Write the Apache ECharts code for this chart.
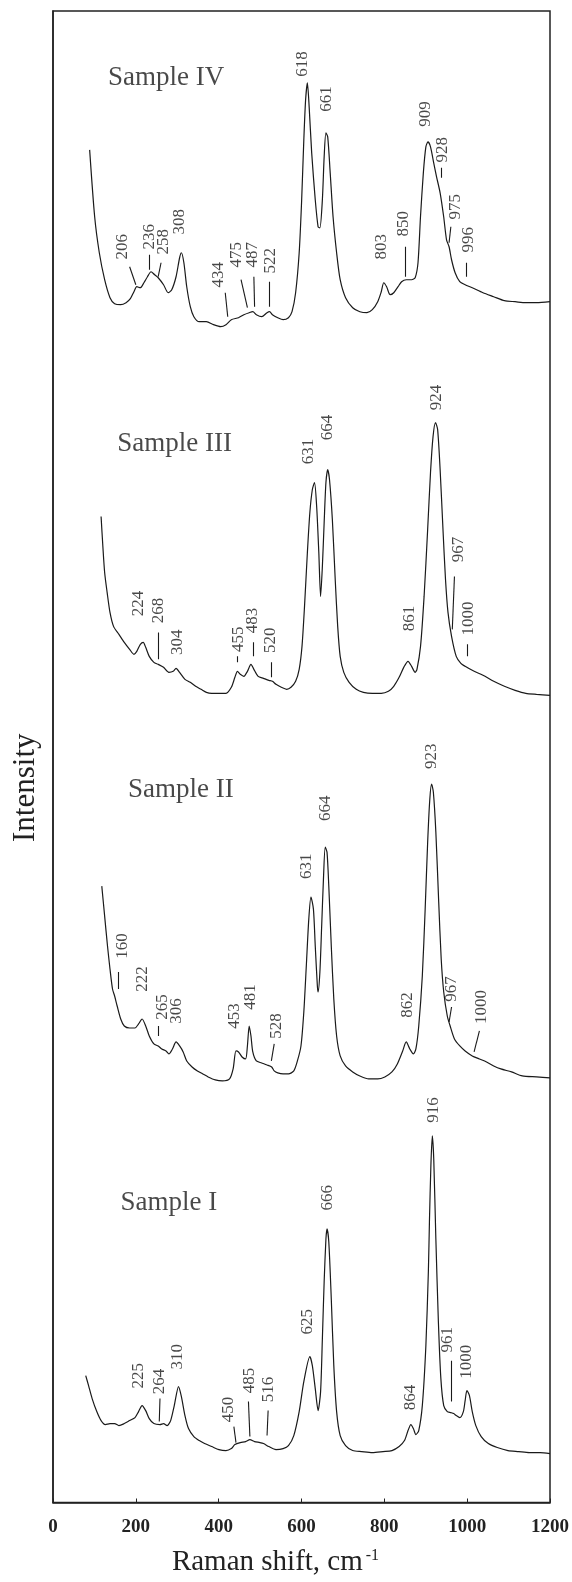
<!DOCTYPE html>
<html><head><meta charset="utf-8">
<script src="https://cdn.jsdelivr.net/npm/echarts@6/dist/echarts.min.js"></script>
<style>html,body{margin:0;padding:0;background:#fff}#c{width:572px;height:1582px}</style>
</head><body><div id="c"></div>
<script>
// x: Raman shift (cm^-1), y: intensity (arbitrary units, spectra stacked)
const xTicks = [0, 200, 400, 600, 800, 1000, 1200];
const sampleNames = ['Sample IV', 'Sample III', 'Sample II', 'Sample I'];
const sampleNamePos = [[133, 142.6], [155, 106.0], [181, 71.3], [163, 30.0]];

const spectrumIV = [[88.5,135.4],[100.6,128.7],[111.8,125.1],[124.7,122.4],[137.6,120.6],[148.8,120.0],[163.5,119.9],[176.4,120.1],[186.8,120.5],[195.4,121.2],[202.3,121.7],[210.9,121.6],[219.5,122.1],[228.1,122.7],[236.7,123.2],[245.4,122.9],[254.0,122.6],[266.9,121.9],[278.1,121.1],[286.7,121.4],[297.1,122.7],[305.7,124.6],[310.0,125.1],[316.0,124.1],[322.9,121.7],[331.5,119.7],[340.1,118.7],[353.1,118.2],[370.3,118.2],[387.5,117.9],[404.8,117.7],[417.7,117.9],[430.6,118.4],[447.9,118.6],[460.8,118.9],[473.7,119.1],[482.4,119.2],[491.0,118.9],[503.9,118.7],[516.8,119.1],[522.9,119.2],[529.8,118.9],[542.7,118.6],[555.6,118.4],[568.5,118.6],[577.1,119.2],[585.8,121.1],[594.4,125.1],[600.4,130.4],[605.6,136.4],[609.9,140.4],[614.2,142.1],[618.5,139.7],[624.6,135.1],[633.2,130.4],[640.1,127.7],[644.4,127.6],[650.4,130.4],[654.7,134.7],[659.0,137.1],[663.3,136.7],[669.3,133.1],[676.2,128.7],[684.8,125.1],[693.4,122.4],[706.4,120.6],[723.6,119.6],[740.9,119.2],[758.1,119.1],[771.0,119.4],[784.0,120.2],[792.6,121.2],[798.6,122.1],[805.5,121.7],[814.1,120.9],[822.7,121.1],[833.1,121.7],[841.7,122.2],[852.9,122.4],[865.8,122.4],[874.4,122.6],[881.3,124.1],[887.3,128.7],[894.2,133.1],[900.3,135.7],[905.4,136.2],[911.5,135.7],[919.2,134.1],[926.1,132.7],[934.7,131.1],[943.3,128.7],[950.2,126.4],[956.3,125.7],[962.3,124.4],[970.9,123.1],[982.1,122.2],[995.1,121.9],[1012.3,121.6],[1038.2,121.1],[1064.0,120.7],[1089.9,120.3],[1115.7,120.2],[1141.6,120.1],[1167.4,120.1],[1200,120.2]];

const spectrumIII = [[116.1,98.7],[120.4,95.7],[124.7,93.1],[130.7,91.1],[137.6,89.1],[146.2,87.7],[159.2,86.9],[172.1,86.1],[185.0,85.4],[195.4,84.9],[202.3,85.2],[210.9,85.9],[217.8,86.1],[223.8,85.6],[232.4,84.7],[243.6,84.1],[254.0,83.9],[266.9,83.6],[279.8,83.1],[290.2,83.2],[297.1,83.5],[305.7,83.1],[318.6,82.4],[331.5,82.1],[344.4,81.7],[357.4,81.4],[370.3,81.1],[383.2,81.0],[400.5,81.0],[417.7,81.0],[430.6,81.6],[439.2,82.6],[445.3,83.2],[452.2,82.9],[460.8,82.7],[469.4,83.2],[478.0,83.9],[485.0,83.4],[495.3,82.7],[508.2,82.5],[521.1,82.3],[529.8,82.2],[538.4,81.9],[551.3,81.6],[564.2,81.4],[574.6,81.6],[585.8,82.2],[594.4,83.4],[601.2,85.7],[607.3,89.7],[614.2,95.1],[620.2,99.1],[626.2,101.4],[631.4,102.1],[636.6,99.7],[641.8,95.1],[646.1,90.7],[650.4,93.7],[654.7,98.1],[659.0,102.1],[663.3,103.4],[667.6,102.4],[674.5,98.4],[681.4,92.4],[687.4,87.7],[693.4,84.7],[702.1,83.1],[715.0,82.1],[732.2,81.4],[749.5,81.1],[771.0,81.0],[792.6,81.0],[809.8,81.2],[822.7,81.7],[835.7,82.6],[846.9,83.6],[857.2,84.2],[865.8,83.7],[874.4,83.1],[878.8,83.4],[887.4,85.7],[896.0,90.7],[904.6,97.4],[911.5,103.1],[917.6,106.7],[923.6,108.1],[928.7,107.4],[934.7,103.4],[941.6,97.4],[947.7,92.4],[953.7,89.1],[962.3,86.7],[973.6,84.7],[984.8,84.0],[995.1,83.7],[1012.3,83.3],[1038.2,82.8],[1064.1,82.2],[1089.9,81.7],[1115.8,81.3],[1141.6,81.0],[1167.4,80.9],[1200,80.8]];

const spectrumII = [[117.8,61.7],[124.7,58.7],[131.6,55.7],[137.6,53.4],[143.7,51.4],[148.8,50.7],[154.9,49.7],[163.5,48.4],[172.1,47.7],[185.0,47.5],[198.0,47.5],[206.6,47.9],[215.1,48.4],[223.8,47.7],[232.4,46.7],[243.6,45.9],[254.0,45.7],[262.6,45.4],[272.9,45.2],[279.8,44.9],[288.4,45.4],[297.1,46.1],[305.7,45.7],[314.3,45.1],[322.9,44.2],[335.8,43.6],[348.7,43.2],[361.7,42.9],[374.6,42.6],[391.8,42.3],[409.1,42.2],[426.3,42.4],[434.9,43.4],[441.8,45.2],[447.9,45.1],[456.5,44.6],[465.1,44.4],[469.4,45.7],[473.7,47.7],[478.0,46.7],[482.4,45.1],[491.0,44.2],[503.9,44.0],[516.8,43.8],[528.0,43.6],[534.1,43.2],[542.7,43.0],[555.6,42.9],[568.5,42.9],[581.4,43.2],[590.1,44.2],[598.7,45.7],[605.6,49.1],[611.6,53.7],[617.6,58.4],[622.8,60.6],[628.8,59.4],[633.2,55.7],[638.3,51.7],[640.1,51.1],[644.4,53.1],[648.7,57.7],[653.0,62.4],[657.3,65.6],[661.6,65.1],[665.9,61.7],[671.9,55.7],[678.0,50.4],[684.8,46.7],[693.4,44.7],[706.4,43.7],[723.6,43.1],[740.9,42.7],[762.4,42.4],[784.0,42.4],[801.2,42.6],[818.4,43.1],[831.4,43.9],[844.3,45.2],[852.9,46.1],[861.5,45.4],[870.1,44.9],[876.2,45.4],[883.1,47.7],[891.7,52.7],[898.6,59.4],[904.6,66.1],[909.8,70.4],[914.1,71.9],[918.4,71.1],[924.4,67.1],[931.3,60.1],[937.3,54.4],[943.4,51.1],[952.0,48.7],[958.9,47.7],[969.3,46.4],[982.2,45.7],[995.1,45.2],[1012.3,44.7],[1029.6,44.4],[1046.8,44.1],[1064.1,43.7],[1081.3,43.4],[1107.1,43.1],[1133.0,42.7],[1167.4,42.6],[1200,42.5]];

const spectrumI = [[79.0,12.7],[85.9,11.7],[94.5,10.4],[105.7,9.1],[116.1,8.2],[126.4,7.8],[137.6,7.9],[148.8,7.9],[159.2,7.7],[172.1,7.9],[185.0,8.2],[198.0,8.5],[206.6,9.1],[215.1,9.7],[223.8,9.2],[232.4,8.4],[243.6,7.9],[258.3,7.8],[266.9,7.9],[275.5,7.7],[284.1,8.2],[292.8,9.7],[303.1,11.6],[310.0,10.6],[318.6,8.7],[327.2,7.4],[340.1,6.6],[353.1,6.2],[366.0,5.9],[383.2,5.6],[400.5,5.3],[417.7,5.2],[430.6,5.4],[439.2,5.8],[452.2,6.0],[465.1,6.1],[475.4,6.3],[486.7,6.1],[499.6,6.0],[508.2,5.9],[521.1,5.6],[538.4,5.3],[555.6,5.4],[568.5,5.7],[581.4,6.7],[594.4,9.1],[605.6,12.1],[620.2,14.6],[626.2,13.7],[633.2,11.4],[640.1,9.2],[646.1,11.1],[650.4,16.4],[654.7,22.1],[659.0,26.4],[661.6,27.4],[665.9,26.1],[671.9,20.4],[678.0,13.7],[684.8,9.1],[693.4,6.7],[706.4,5.7],[723.6,5.2],[745.2,5.1],[771.0,5.0],[796.9,5.1],[818.4,5.2],[835.7,5.6],[848.6,6.2],[857.2,7.2],[864.1,7.8],[870.1,7.4],[876.2,6.8],[883.1,7.2],[891.7,9.7],[900.3,15.7],[906.3,23.1],[908.9,28.1],[912.4,33.7],[915.8,36.7],[919.3,34.4],[924.4,26.4],[930.5,18.1],[936.5,12.4],[943.4,9.7],[952.0,9.1],[960.6,9.0],[967.5,8.9],[973.6,8.7],[982.2,8.5],[990.8,9.1],[995.1,10.2],[999.4,11.2],[1005.5,10.7],[1012.3,9.1],[1020.9,7.7],[1033.9,6.6],[1051.1,5.9],[1072.7,5.5],[1098.5,5.2],[1124.4,5.1],[1150.2,5.0],[1176.1,5.0],[1200,4.9]];

// peak labels: [text, x, y] (label centre)
const peaksIV = [['206',168,125.7],['236',232.4,126.7],['258',266.9,126.2],['308',305.7,128.2],['434',400.5,122.9],['475',443.6,124.9],['487',482.4,124.9],['522',525.5,124.3],['618',603,144.0],['661',660.7,140.5],['803',792.6,125.7],['850',846.9,128.0],['909',898.6,139.0],['928',941.6,135.4],['975',971,129.7],['996',1003.8,126.4]];
const peaksIII = [['224',206.6,90.0],['268',254.0,89.3],['304',301.4,86.1],['455',447.8,86.4],['483',482.4,88.3],['520',525.5,86.3],['631',617.6,105.2],['664',663.3,107.6],['861',861.5,88.5],['924',926.1,110.6],['967',979.7,95.4],['1000',1003.8,88.5]];
const peaksII = [['160',168,55.7],['222',215.1,52.4],['265',264.3,49.6],['306',298.8,49.2],['453',439.2,48.7],['481',478.1,50.6],['528',540.1,47.7],['631',611.6,63.7],['664',659,69.5],['862',855.5,49.8],['923',913.3,74.7],['967',962.3,51.4],['1000',1035.6,49.6]];
const peaksI = [['225',206.6,12.7],['264',258.3,12.1],['310',301.4,14.6],['450',424.6,9.3],['485',473.7,12.2],['516',521.1,11.3],['625',614.2,18.1],['666',663.3,30.5],['864',864.1,10.5],['916',917.7,39.3],['961',952.0,16.3],['1000',999.5,14.1]];

// leader lines: [[x1,y1],[x2,y2]]
const leadersIV = [[[185,123.7],[200,121.9]],[[232.4,124.9],[232.4,123.4]],[[260.9,124.1],[254.0,122.7]],[[415.9,121.1],[421.9,118.7]],[[454,122.4],[469.4,119.6]],[[485,122.7],[486.7,119.7]],[[521,122.2],[521,119.7]],[[851.2,125.7],[851.2,122.7]],[[937,133.6],[937,132.6]],[[960.6,127.7],[956.3,126.1]],[[997,124.1],[997,122.7]]];
const leadersIII = [[[254,87.1],[254,84.4]],[[445,84.7],[445,84.1]],[[482.4,86.1],[482.4,84.7]],[[527,84.1],[527,82.6]],[[969.3,92.7],[964.1,87.4]],[[999.5,85.9],[999.5,84.7]]];
const leadersII = [[[157.5,53.1],[157.5,51.4]],[[254,47.7],[254,46.7]],[[534.1,45.9],[527.2,44.2]],[[962.3,49.6],[956.3,48.1]],[[1029.6,47.2],[1016.7,45.1]]];
const leadersI = [[[258.3,10.4],[256.6,8.1]],[[436.7,7.6],[441.8,6.0]],[[471.9,10.1],[475.4,6.6]],[[519.4,9.2],[516.8,6.7]],[[962.3,14.2],[962.3,10.1]]];

const spectra = [spectrumIV, spectrumIII, spectrumII, spectrumI];
const peaks = [peaksIV, peaksIII, peaksII, peaksI];
const leaders = [leadersIV, leadersIII, leadersII, leadersI];

const FONT = '"Liberation Serif", "Times New Roman", serif';
const INK = '#1a1a1a';
const series = [];
spectra.forEach((d, i) => {
  series.push({type: 'line', data: d, showSymbol: false, smooth: 0.25, silent: true,
    lineStyle: {color: INK, width: 1.2}});
});
leaders.forEach(L => {
  series.push({type: 'lines', coordinateSystem: 'cartesian2d', silent: true,
    lineStyle: {color: INK, width: 1.1, opacity: 1},
    data: L.map(c => ({coords: c}))});
});
const allPeaks = [].concat(...peaks);
series.push({type: 'scatter', symbolSize: 0, silent: true,
  data: allPeaks.map(p => ({name: p[0], value: [p[1], p[2]]})),
  label: {show: true, position: 'inside', rotate: 90, formatter: '{b}',
    fontFamily: FONT, fontSize: 17, color: INK}});
series.push({type: 'scatter', symbolSize: 0, silent: true,
  data: sampleNames.map((n, i) => ({name: n, value: sampleNamePos[i]})),
  label: {show: true, position: 'right', distance: 0, formatter: '{b}',
    fontFamily: FONT, fontSize: 27, color: INK}});

const chart = echarts.init(document.getElementById('c'), null, {renderer: 'canvas'});
chart.setOption({
  animation: false,
  backgroundColor: '#fff',
  grid: {left: 53, right: 11, top: 11, bottom: 78, show: true, borderColor: '#222', borderWidth: 1.5},
  xAxis: {type: 'value', min: 0, max: 1200, interval: 200,
    axisLine: {show: true, onZero: false, lineStyle: {color: '#222', width: 1.5}},
    axisTick: {show: true, inside: true, length: 4, lineStyle: {color: '#222'}},
    splitLine: {show: false},
    axisLabel: {fontFamily: FONT, fontSize: 19, fontWeight: 'bold', color: '#222', margin: 15,
      formatter: v => xTicks.indexOf(v) >= 0 ? String(v) : ''},
    name: '{a|Raman shift, cm}{b|-1}', nameLocation: 'middle', nameGap: 45,
    nameTextStyle: {padding: [0, 52, 0, 0], rich: {a: {fontFamily: FONT, fontSize: 29, color: '#222'},
      b: {fontFamily: FONT, fontSize: 16, color: '#222', verticalAlign: 'top', padding: [0, 0, 14, 3]}}}},
  yAxis: {type: 'value', min: 0, max: 149.3,
    axisLine: {show: true, onZero: false, lineStyle: {color: '#222', width: 1.5}},
    axisTick: {show: false}, axisLabel: {show: false}, splitLine: {show: false},
    name: 'Intensity', nameLocation: 'middle', nameGap: 12, nameRotate: 90,
    nameTextStyle: {fontFamily: FONT, fontSize: 31, color: '#222', padding: [0, 62, 0, 0]}},
  series: series
});
</script></body></html>
